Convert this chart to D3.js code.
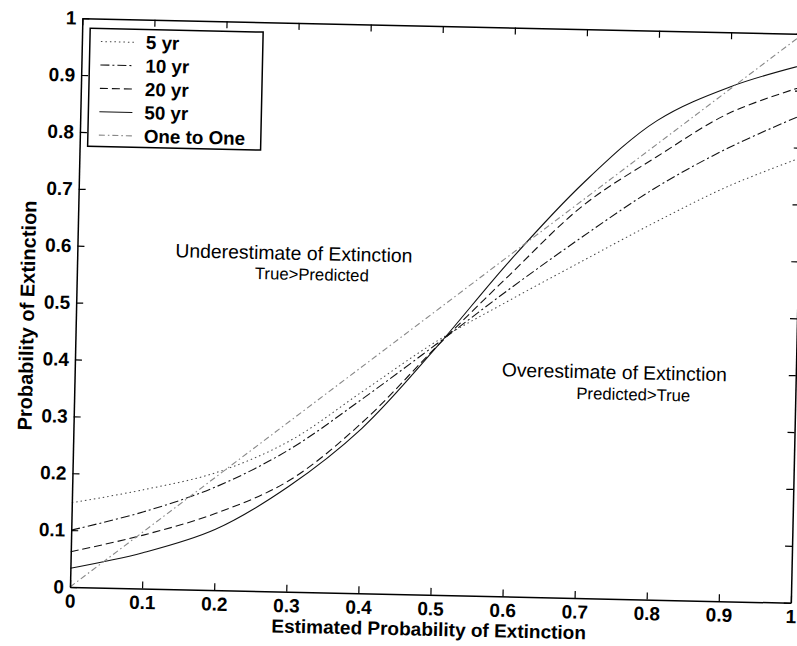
<!DOCTYPE html>
<html>
<head>
<meta charset="utf-8">
<script src="https://cdn.jsdelivr.net/npm/d3@7"></script>
<style>
  body { margin: 0; background: #fff; }
  text { font-family: "Liberation Sans", Arial, Helvetica, sans-serif; }
</style>
</head>
<body>
<div class="chart"></div>
<script>
// values
var estimated = [0, 0.1, 0.2, 0.3, 0.4, 0.5, 0.6, 0.7, 0.8, 0.9, 1];
var fiveYr = [0.148, 0.174, 0.207, 0.265, 0.355, 0.445, 0.52, 0.592, 0.663, 0.729, 0.782];
var tenYr = [0.1, 0.135, 0.182, 0.25, 0.342, 0.44, 0.54, 0.635, 0.724, 0.797, 0.857];
var twentyYr = [0.062, 0.094, 0.135, 0.195, 0.3, 0.435, 0.565, 0.69, 0.778, 0.858, 0.907];
var fiftyYr = [0.033, 0.063, 0.107, 0.185, 0.29, 0.434, 0.59, 0.73, 0.842, 0.904, 0.945];
var oneToOneX = [0, 1];
var oneToOneY = [0, 1];
var seriesNames = ["5 yr", "10 yr", "20 yr", "50 yr", "One to One"];
var tickValues = [0, 0.1, 0.2, 0.3, 0.4, 0.5, 0.6, 0.7, 0.8, 0.9, 1];
var tickLabels = ["0", "0.1", "0.2", "0.3", "0.4", "0.5", "0.6", "0.7", "0.8", "0.9", "1"];

var W = 797, H = 646;
var plotW = 721, plotH = 569;
var tilt = 1.25; // the scan is slightly rotated

var svg = d3.select(".chart").append("svg")
  .attr("width", W).attr("height", H);

var g = svg.append("g")
  .attr("transform", "translate(70,587) rotate(" + tilt + ") translate(0," + (-plotH) + ")");

var x = d3.scaleLinear().domain([0, 1]).range([0, plotW]);
var y = d3.scaleLinear().domain([0, 1]).range([plotH, 0]);

var styles = [
  { stroke: "#444", dash: "1.5,3", width: 1 },
  { stroke: "#111", dash: "9,3,2,3", width: 1.1 },
  { stroke: "#111", dash: "8,4", width: 1.1 },
  { stroke: "#111", dash: null, width: 1.1 },
  { stroke: "#888", dash: "6,3,1.5,3", width: 1.1 }
];

var series = [
  estimated.map(function (d, i) { return [d, fiveYr[i]]; }),
  estimated.map(function (d, i) { return [d, tenYr[i]]; }),
  estimated.map(function (d, i) { return [d, twentyYr[i]]; }),
  estimated.map(function (d, i) { return [d, fiftyYr[i]]; }),
  oneToOneX.map(function (d, i) { return [d, oneToOneY[i]]; })
];

var line = d3.line()
  .x(function (d) { return x(d[0]); })
  .y(function (d) { return y(d[1]); })
  .curve(d3.curveCatmullRom);

g.selectAll(".curve")
  .data(series)
  .enter()
  .append("path")
  .attr("class", "curve")
  .attr("d", line)
  .attr("fill", "none")
  .attr("stroke", function (d, i) { return styles[i].stroke; })
  .attr("stroke-width", function (d, i) { return styles[i].width; })
  .attr("stroke-dasharray", function (d, i) { return styles[i].dash; });

// axes on all four sides, ticks inward
var tickLen = 7;
function fmt(d) { return tickLabels[tickValues.indexOf(d)]; }

var axBottom = g.append("g").attr("transform", "translate(0," + plotH + ")")
  .call(d3.axisBottom(x).tickValues(tickValues).tickFormat(fmt).tickSizeInner(-tickLen).tickSizeOuter(0).tickPadding(7));
var axLeft = g.append("g")
  .call(d3.axisLeft(y).tickValues(tickValues).tickFormat(fmt).tickSizeInner(-tickLen).tickSizeOuter(0).tickPadding(6));
var axTop = g.append("g")
  .call(d3.axisTop(x).tickValues(tickValues).tickFormat("").tickSizeInner(-tickLen).tickSizeOuter(0));
var axRight = g.append("g").attr("transform", "translate(" + plotW + ",0)")
  .call(d3.axisRight(y).tickValues(tickValues).tickFormat("").tickSizeInner(-tickLen).tickSizeOuter(0));

[axBottom, axLeft, axTop, axRight].forEach(function (a) {
  a.select(".domain").attr("stroke", "#000").attr("stroke-width", 1.5);
  a.selectAll(".tick line").attr("stroke", "#000").attr("stroke-width", 1.2);
  a.selectAll("text")
    .attr("fill", "#000")
    .style("font-size", "19px")
    .style("font-weight", "bold")
    .style("font-family", '"Liberation Sans", Arial, sans-serif');
});

// axis titles
g.append("text")
  .attr("x", plotW / 2 - 1)
  .attr("y", plotH + 41)
  .attr("text-anchor", "middle")
  .style("font-size", "19px")
  .style("font-weight", "bold")
  .text("Estimated Probability of Extinction");

g.append("text")
  .attr("transform", "translate(-42," + (plotH / 2 + 14) + ") rotate(-90)")
  .attr("text-anchor", "middle")
  .style("font-size", "20px")
  .style("font-weight", "bold")
  .text("Probability of Extinction");

// region notes
var notes = [
  { text: "Underestimate of Extinction", x: 98, y: 237, size: 19.4 },
  { text: "True>Predicted", x: 178, y: 257, size: 16.7 },
  { text: "Overestimate of Extinction", x: 427, y: 349, size: 19.3 },
  { text: "Predicted>True", x: 502, y: 370, size: 16.7 }
];
g.selectAll(".note")
  .data(notes)
  .enter()
  .append("text")
  .attr("class", "note")
  .attr("x", function (d) { return d.x; })
  .attr("y", function (d) { return d.y; })
  .style("font-size", function (d) { return d.size + "px"; })
  .text(function (d) { return d.text; });

// legend
var legend = g.append("g").attr("transform", "translate(8,10)");
legend.append("rect")
  .attr("width", 173).attr("height", 118)
  .attr("fill", "#fff").attr("stroke", "#000").attr("stroke-width", 1.5);

var rows = legend.selectAll(".row")
  .data(seriesNames)
  .enter()
  .append("g")
  .attr("class", "row")
  .attr("transform", function (d, i) { return "translate(0," + (13 + i * 23.4) + ")"; });

rows.append("line")
  .attr("x1", 11).attr("x2", 44)
  .attr("y1", 0).attr("y2", 0)
  .attr("stroke", function (d, i) { return styles[i].stroke; })
  .attr("stroke-width", function (d, i) { return styles[i].width; })
  .attr("stroke-dasharray", function (d, i) { return styles[i].dash; });

rows.append("text")
  .attr("x", 56)
  .attr("dy", "0.35em")
  .style("font-size", "18.8px")
  .style("font-weight", "bold")
  .text(function (d) { return d; });
</script>
</body>
</html>
